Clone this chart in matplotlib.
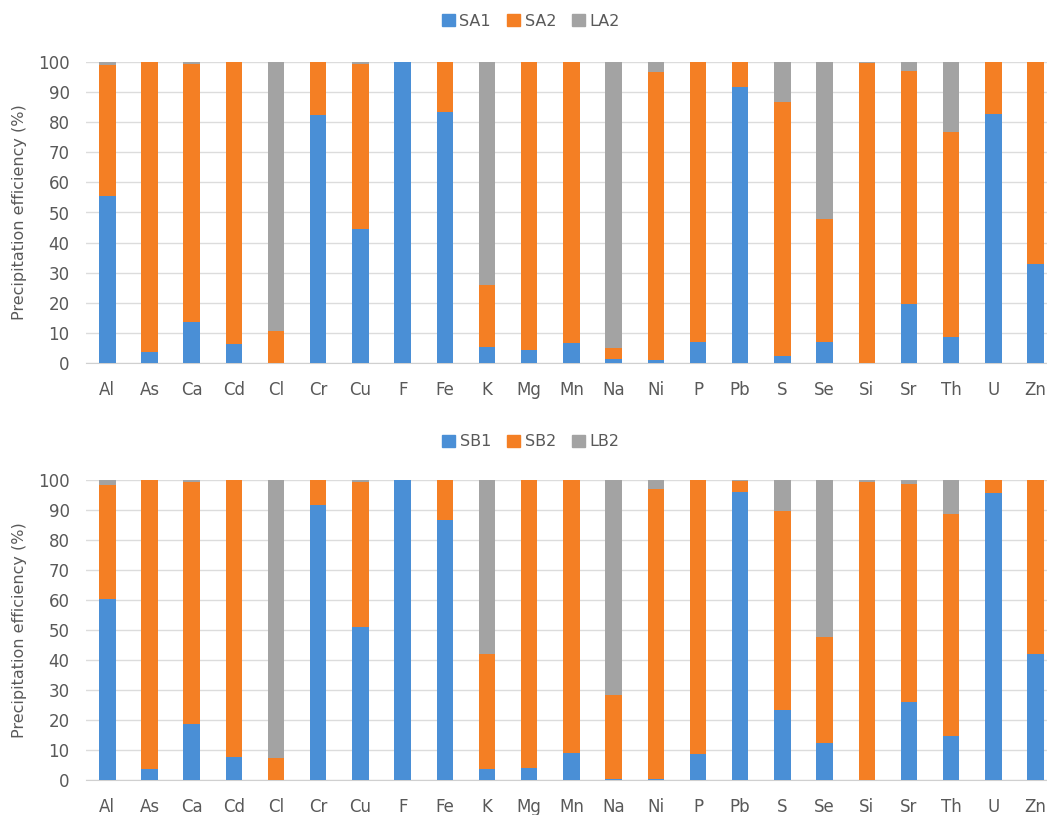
import numpy as np
import matplotlib
matplotlib.use("Agg")
import matplotlib.pyplot as plt
from matplotlib.patches import Patch

elements = ["Al", "As", "Ca", "Cd", "Cl", "Cr", "Cu", "F", "Fe", "K", "Mg", "Mn",
            "Na", "Ni", "P", "Pb", "S", "Se", "Si", "Sr", "Th", "U", "Zn"]

# Series A (%)
sa1 = [55.5, 3.5, 13.5, 6.2, 0.0, 82.5, 44.5, 100.0, 83.5, 5.3, 4.3, 6.5,
       1.2, 0.8, 7.0, 91.8, 2.2, 7.0, 0.0, 19.5, 8.7, 82.7, 32.7]
sa2 = [43.5, 96.5, 85.8, 93.8, 10.5, 17.5, 54.8, 0.0, 16.5, 20.7, 95.7, 93.5,
       3.6, 95.9, 93.0, 8.2, 84.5, 41.0, 99.7, 77.5, 68.0, 17.3, 67.3]
la2 = [1.0, 0.0, 0.7, 0.0, 89.5, 0.0, 0.7, 0.0, 0.0, 74.0, 0.0, 0.0,
       95.2, 3.3, 0.0, 0.0, 13.3, 52.0, 0.3, 3.0, 23.3, 0.0, 0.0]

# Series B (%)
sb1 = [60.2, 3.6, 18.7, 7.8, 0.0, 91.7, 50.9, 100.0, 86.7, 3.6, 3.9, 9.1,
       0.4, 0.4, 8.7, 96.0, 23.3, 12.2, 0.0, 26.0, 14.8, 95.6, 42.0]
sb2 = [38.1, 96.4, 80.6, 92.2, 7.4, 8.3, 48.4, 0.0, 13.3, 38.4, 96.1, 90.9,
       27.8, 96.7, 91.3, 3.7, 66.4, 35.5, 99.2, 72.7, 74.0, 4.4, 58.0]
lb2 = [1.7, 0.0, 0.7, 0.0, 92.6, 0.0, 0.7, 0.0, 0.0, 58.0, 0.0, 0.0,
       71.8, 2.9, 0.0, 0.3, 10.3, 52.3, 0.8, 1.3, 11.2, 0.0, 0.0]

BLUE = "#4a8fd6"
ORANGE = "#f47f24"
GREY = "#a3a3a3"
TXT = "#595959"

plt.rcParams["font.family"] = ["DejaVu Sans"]

W, H = 1047, 815
fig = plt.figure(figsize=(W / 100, H / 100), dpi=100)


def draw_panel(ax, s1, s2, s3, names, legend_y):
    x = np.arange(len(elements))
    s1 = np.array(s1)
    s2 = np.array(s2)
    s3 = np.array(s3)
    bw = 0.39
    ax.bar(x, s1, bw, color=BLUE, zorder=3)
    ax.bar(x, s2, bw, bottom=s1, color=ORANGE, zorder=3)
    ax.bar(x, s3, bw, bottom=s1 + s2, color=GREY, zorder=3)
    ax.set_xlim(-0.5, len(elements) - 0.5)
    ax.set_ylim(0, 100)
    ax.set_yticks(range(0, 101, 10))
    ax.set_xticks(x)
    ax.set_xticklabels(elements)
    ax.grid(axis="y", color="#dcdcdc", linewidth=1, zorder=0)
    for sp in ["top", "right", "left"]:
        ax.spines[sp].set_visible(False)
    ax.spines["bottom"].set_color("#d0d0d0")
    ax.tick_params(length=0, colors=TXT)
    ax.tick_params(axis="x", labelsize=12, pad=13)
    ax.tick_params(axis="y", labelsize=12, pad=12)
    ax.set_ylabel("Precipitation efficiency (%)", color=TXT, fontsize=11.5, labelpad=8)
    handles = [Patch(color=c, label=n) for c, n in zip([BLUE, ORANGE, GREY], names)]
    fig.legend(handles=handles, loc="center", bbox_to_anchor=(531 / W, 1 - legend_y / H),
               ncol=3, frameon=False, fontsize=11.5, labelcolor=TXT,
               handlelength=0.8, handleheight=0.8, handletextpad=0.3, columnspacing=1.0)


# plot area runs slightly past the right edge, so the last bar sits at the border
left = 86.2 / W
width = (1056.6 - 86.2) / W
ax1 = fig.add_axes([left, 1 - 362.7 / H, width, 300.4 / H])
draw_panel(ax1, sa1, sa2, la2, ["SA1", "SA2", "LA2"], 21)

ax2 = fig.add_axes([left, 1 - 780 / H, width, 300 / H])
draw_panel(ax2, sb1, sb2, lb2, ["SB1", "SB2", "LB2"], 442)

fig.savefig("out.png", dpi=100)
